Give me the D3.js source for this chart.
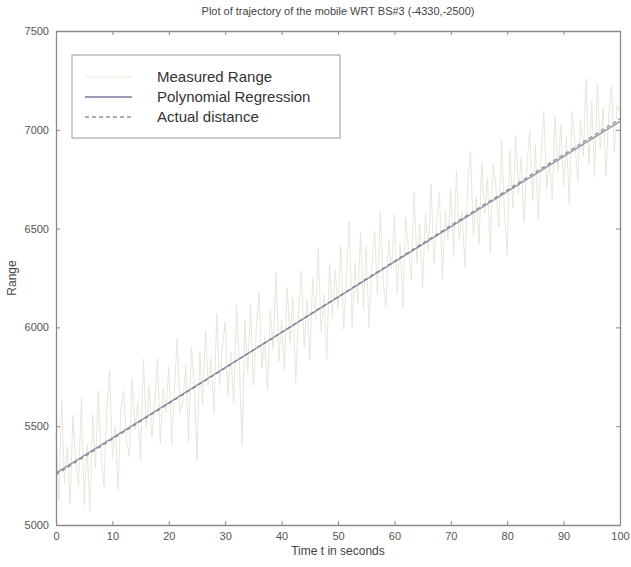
<!DOCTYPE html>
<html>
<head>
<meta charset="utf-8">
<script src="https://cdn.jsdelivr.net/npm/d3@7"></script>
<style>
  html, body { margin: 0; padding: 0; background: #fff; }
  svg { display: block; font-family: "Liberation Sans", Arial, sans-serif; }
</style>
</head>
<body>
<svg id="chart" width="631" height="567"></svg>
<script>
// Measured range, sampled every half second from t = 0 to t = 100 s
const sampleStep = 0.5;
const measuredRange = [
  5463, 5122, 5631, 5210, 5399, 5108, 5556, 5325, 5192, 5643,
  5102, 5411, 5070, 5559, 5288, 5677, 5355, 5194, 5573, 5782,
  5341, 5500, 5179, 5588, 5677, 5426, 5345, 5743, 5482, 5621,
  5330, 5839, 5488, 5707, 5446, 5615, 5843, 5412, 5691, 5570,
  5799, 5408, 5697, 5946, 5565, 5624, 5802, 5421, 5900, 5719,
  5328, 5877, 5606, 5985, 5704, 5843, 5561, 6070, 5709, 5908,
  6027, 5656, 5875, 5614, 6113, 5822, 5400, 6039, 5768, 6117,
  5706, 5985, 6174, 5793, 5952, 5681, 6089, 5888, 6277, 5826,
  6035, 5784, 6203, 5922, 6151, 5720, 6068, 6287, 5896, 6145,
  5834, 6253, 6042, 6401, 5980, 6169, 5837, 6326, 6045, 6294,
  6093, 6412, 5991, 6260, 6539, 5998, 6326, 6125, 6484, 6093,
  6412, 6001, 6300, 6489, 6168, 6587, 6235, 6104, 6443, 6292,
  6571, 6170, 6429, 6098, 6556, 6396, 6244, 6683, 6322, 6521,
  6200, 6579, 6388, 6727, 6326, 6525, 6683, 6242, 6591, 6440,
  6699, 6358, 6797, 6446, 6585, 6304, 6722, 6891, 6460, 6659,
  6418, 6837, 6576, 6755, 6374, 6823, 6711, 6510, 6949, 6588,
  6367, 6896, 6605, 6974, 6673, 6862, 6530, 6819, 6998, 6637,
  6926, 6545, 6854, 7093, 6702, 6841, 6649, 7068, 6787, 7026,
  6715, 6964, 6623, 7092, 6941, 6740, 7048, 6867, 7256, 6825,
  7144, 6763, 7232, 6901, 7110, 6769, 7067, 7226, 6885, 7124,
  7093
];
// Fitted regression and true distance at the interval ends
const fitTime = [0, 100];
const regressionRange = [5263, 7043];
const actualRange = [5255, 7055];

const xTicks = [0, 10, 20, 30, 40, 50, 60, 70, 80, 90, 100];
const yTicks = [5000, 5500, 6000, 6500, 7000, 7500];

const legendItems = [
  { label: "Measured Range", color: "#e9e6d9", dash: null, width: 1 },
  { label: "Polynomial Regression", color: "#77779a", dash: null, width: 1.5 },
  { label: "Actual distance", color: "#a08e92", dash: "4,3", width: 1.4 }
];

const svg = d3.select("#chart");
const plot = { left: 56, right: 620, top: 31, bottom: 525 };

const x = d3.scaleLinear().domain([0, 100]).range([plot.left, plot.right]);
const y = d3.scaleLinear().domain([5000, 7500]).range([plot.bottom, plot.top]);

const axisColor = "#8a8a8a";
const textColor = "#555";

// Data lines
const line = d3.line().x(d => x(d[0])).y(d => y(d[1]));

svg.append("path")
  .datum(measuredRange.map((v, i) => [i * sampleStep, v]))
  .attr("d", line)
  .attr("fill", "none")
  .attr("stroke", legendItems[0].color)
  .attr("stroke-width", legendItems[0].width);

svg.append("path")
  .datum(fitTime.map((t, i) => [t, actualRange[i]]))
  .attr("d", line)
  .attr("fill", "none")
  .attr("stroke", legendItems[2].color)
  .attr("stroke-width", legendItems[2].width)
  .attr("stroke-dasharray", legendItems[2].dash);

svg.append("path")
  .datum(fitTime.map((t, i) => [t, regressionRange[i]]))
  .attr("d", line)
  .attr("fill", "none")
  .attr("stroke", legendItems[1].color)
  .attr("stroke-width", legendItems[1].width)
  .attr("opacity", 0.75);

// Axes with inward ticks on all four sides
function styleAxis(g) {
  g.select(".domain").attr("stroke", axisColor).attr("stroke-width", 1.3);
  g.selectAll(".tick line").attr("stroke", axisColor);
  g.selectAll(".tick text").attr("fill", textColor).attr("font-size", 11);
}

svg.append("g")
  .attr("transform", `translate(0,${plot.bottom})`)
  .call(d3.axisBottom(x).tickValues(xTicks).tickSizeInner(-4).tickSizeOuter(0).tickPadding(7).tickFormat(d3.format("d")))
  .call(styleAxis);

svg.append("g")
  .attr("transform", `translate(${plot.left},0)`)
  .call(d3.axisLeft(y).tickValues(yTicks).tickSizeInner(-4).tickSizeOuter(0).tickPadding(7).tickFormat(d3.format("d")))
  .call(styleAxis);

svg.append("g")
  .attr("transform", `translate(0,${plot.top})`)
  .call(d3.axisTop(x).tickValues(xTicks).tickSizeInner(-4).tickSizeOuter(0).tickFormat(""))
  .call(styleAxis);

svg.append("g")
  .attr("transform", `translate(${plot.right},0)`)
  .call(d3.axisRight(y).tickValues(yTicks).tickSizeInner(-4).tickSizeOuter(0).tickFormat(""))
  .call(styleAxis);

// Title and axis labels
svg.append("text")
  .attr("x", (plot.left + plot.right) / 2).attr("y", 15)
  .attr("text-anchor", "middle")
  .attr("font-size", 11).attr("fill", "#444")
  .text("Plot of trajectory of the mobile WRT BS#3 (-4330,-2500)");

svg.append("text")
  .attr("x", (plot.left + plot.right) / 2).attr("y", 555)
  .attr("text-anchor", "middle")
  .attr("font-size", 12).attr("fill", "#444")
  .text("Time t in seconds");

svg.append("text")
  .attr("transform", `translate(16,${(plot.top + plot.bottom) / 2}) rotate(-90)`)
  .attr("text-anchor", "middle")
  .attr("font-size", 12).attr("fill", "#444")
  .text("Range");

// Legend
const legend = svg.append("g");
legend.append("rect")
  .attr("x", 72).attr("y", 55).attr("width", 268).attr("height", 83)
  .attr("fill", "#fff").attr("stroke", "#999").attr("stroke-width", 1);

legendItems.forEach((item, i) => {
  const ly = 77 + i * 20;
  legend.append("line")
    .attr("x1", 85).attr("x2", 132).attr("y1", ly).attr("y2", ly)
    .attr("stroke", item.color).attr("stroke-width", item.width)
    .attr("stroke-dasharray", item.dash);
  legend.append("text")
    .attr("x", 157).attr("y", ly + 5)
    .attr("font-size", 15).attr("fill", "#333")
    .text(item.label);
});
</script>
</body>
</html>
